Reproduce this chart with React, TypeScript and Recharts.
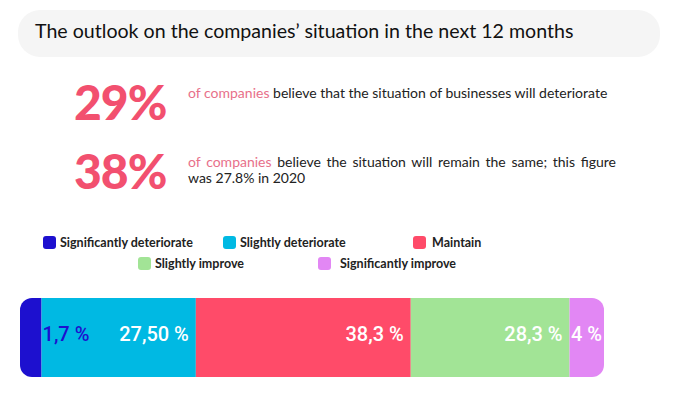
import { BarChart, Bar, XAxis, YAxis, LabelList } from 'recharts'

const categories = [
  'Significantly deteriorate',
  'Slightly deteriorate',
  'Maintain',
  'Slightly improve',
  'Significantly improve',
]
const shares = [1.7, 27.5, 38.3, 28.3, 4]
const shareLabels = ['1,7 %', '27,50 %', '38,3 %', '28,3 %', '4 %']
const colors = ['#1d10cf', '#00b9e3', '#ff4b69', '#a2e496', '#e287f4']

const highlights = ['29%', '38%']
const highlightTexts = [
  'believe that the situation of businesses will deteriorate',
  'believe the situation will remain the same; this figure was 27.8% in 2020',
]

const title = 'The outlook on the companies\u2019 situation in the next 12 months'

const PINK = '#f2506f'
const FONT = 'Lato, "Open Sans", sans-serif'
const CAP = 12

const row: Record<string, string | number> = { name: 'outlook' }
shares.forEach((v, i) => {
  row[`s${i}`] = v
})
const data = [row]
const total = shares.reduce((a, b) => a + b, 0)

// legend positions follow the two-row layout of the original
const legendPos = [
  { left: 43, top: 235 },
  { left: 223, top: 235 },
  { left: 413, top: 235 },
  { left: 138, top: 256 },
  { left: 318, top: 256 },
]
const legendGap = [17, 17, 19, 17, 22]

// first and last segments get a rounded cap outside the value range
function makeShape(i: number) {
  return (props: any) => {
    const { x, y, width, height, fill } = props
    const last = shares.length - 1
    if (i === 0) {
      const x0 = x - CAP
      const x1 = x + width
      const d = `M${x1},${y} L${x0 + CAP},${y} A${CAP},${CAP} 0 0 0 ${x0},${y + CAP} L${x0},${y + height - CAP} A${CAP},${CAP} 0 0 0 ${x0 + CAP},${y + height} L${x1},${y + height} Z`
      return <path d={d} fill={fill} />
    }
    if (i === last) {
      const x0 = x
      const x1 = x + width + CAP
      const d = `M${x0},${y} L${x1 - CAP},${y} A${CAP},${CAP} 0 0 1 ${x1},${y + CAP} L${x1},${y + height - CAP} A${CAP},${CAP} 0 0 1 ${x1 - CAP},${y + height} L${x0},${y + height} Z`
      return <path d={d} fill={fill} />
    }
    return <rect x={x} y={y} width={width} height={height} fill={fill} />
  }
}

function makeLabel(i: number) {
  return (props: any) => {
    const { x, y, width, height } = props
    const first = i === 0
    const last = i === shares.length - 1
    const tx = first ? x + width + 1 : last ? x + width + CAP - 2 : x + width - 7
    return (
      <text
        x={tx}
        y={y + height / 2 - 4}
        textAnchor={first ? 'start' : 'end'}
        dominantBaseline="central"
        fill={first ? colors[0] : '#ffffff'}
        fontFamily="Roboto, sans-serif"
        fontWeight={500}
        fontSize={20}
      >
        {shareLabels[i]}
      </text>
    )
  }
}

export default function App() {
  return (
    <div
      style={{
        position: 'absolute',
        left: 0,
        top: 0,
        width: 674,
        height: 395,
        background: '#fff',
        fontFamily: FONT,
        color: '#222',
        overflow: 'hidden',
      }}
    >
      <div
        style={{
          position: 'absolute',
          left: 18,
          top: 10,
          width: 642,
          height: 47,
          borderRadius: 22,
          background: '#f5f5f5',
        }}
      />
      <div
        style={{
          position: 'absolute',
          left: 35,
          top: 19,
          fontSize: 19.6,
          lineHeight: '24px',
          whiteSpace: 'nowrap',
          color: '#111',
        }}
      >
        {title}
      </div>

      {highlights.map((h, i) => (
        <div key={h}>
          <div
            style={{
              position: 'absolute',
              left: 74,
              top: i === 0 ? 74 : 143,
              fontSize: 48,
              fontWeight: 900,
              lineHeight: '56px',
              color: PINK,
              letterSpacing: -1,
            }}
          >
            {h}
          </div>
          <div
            style={{
              position: 'absolute',
              left: 188,
              top: i === 0 ? 85 : 154,
              width: 428,
              fontSize: 14,
              lineHeight: '16px',
              textAlign: 'justify',
              color: '#222',
            }}
          >
            <span style={{ color: '#e8708a' }}>of companies</span> {highlightTexts[i]}
          </div>
        </div>
      ))}

      {categories.map((c, i) => (
        <div
          key={c}
          style={{
            position: 'absolute',
            left: legendPos[i].left,
            top: legendPos[i].top,
            height: 14,
            display: 'flex',
            alignItems: 'center',
            whiteSpace: 'nowrap',
          }}
        >
          <span
            style={{
              width: 13,
              height: 13,
              borderRadius: 3,
              background: colors[i],
              marginRight: legendGap[i] - 13,
              display: 'inline-block',
            }}
          />
          <span style={{ fontSize: 12.5, fontWeight: 700, color: '#222' }}>{c}</span>
        </div>
      ))}

      <div style={{ position: 'absolute', left: 0, top: 290 }}>
        <BarChart
          width={674}
          height={95}
          data={data}
          layout="vertical"
          margin={{ top: 8, right: 70 + CAP, bottom: 8, left: 20 + CAP }}
          barCategoryGap={0}
        >
          <XAxis type="number" domain={[0, total]} hide />
          <YAxis type="category" dataKey="name" hide />
          {shares.map((_, i) => (
            <Bar
              key={i}
              dataKey={`s${i}`}
              stackId="a"
              fill={colors[i]}
              isAnimationActive={false}
              shape={makeShape(i)}
            >
              <LabelList dataKey={`s${i}`} content={makeLabel(i)} />
            </Bar>
          ))}
        </BarChart>
      </div>
    </div>
  )
}
